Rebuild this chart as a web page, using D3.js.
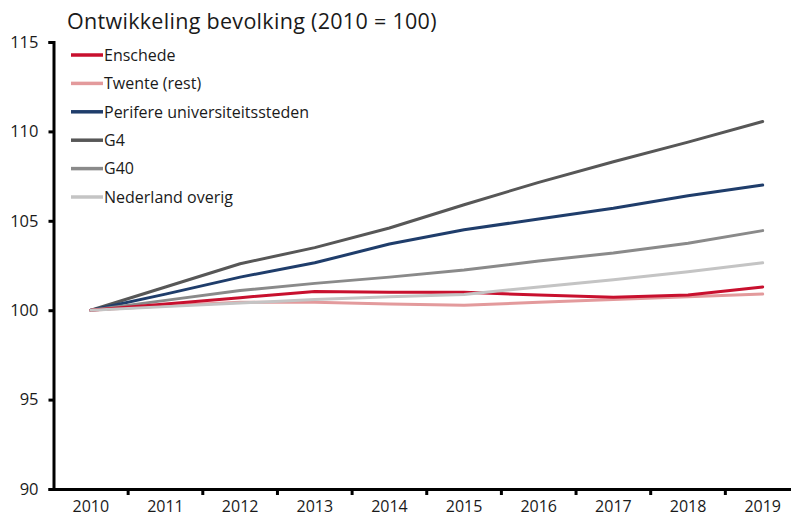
<!DOCTYPE html>
<html><head><meta charset="utf-8">
<script src="https://cdn.jsdelivr.net/npm/d3@7"></script>
<style>
body{margin:0;background:#fff;}
svg text{font-family:"Open Sans","Noto Sans",sans-serif;fill:#1a1a1a;}
</style></head>
<body><svg id="c" width="791" height="520"></svg>
<script>
const years = ["2010","2011","2012","2013","2014","2015","2016","2017","2018","2019"];
const yTicks = [90,95,100,105,110,115];
const title = "Ontwikkeling bevolking (2010 = 100)";
const seriesNames = ["Enschede","Twente (rest)","Perifere universiteitssteden","G4","G40","Nederland overig"];
const seriesColors = ["#c8102e","#e39a9c","#1f3d6b","#575757","#8a8a8a","#c4c4c4"];
const enschede = [100,100.35,100.7,101.05,101.0,101.0,100.85,100.72,100.85,101.3];
const twente   = [100,100.25,100.45,100.45,100.35,100.27,100.45,100.6,100.75,100.9];
const perifere = [100,100.9,101.85,102.65,103.7,104.5,105.1,105.7,106.4,107.0];
const g4       = [100,101.3,102.6,103.5,104.6,105.9,107.15,108.3,109.4,110.55];
const g40      = [100,100.55,101.1,101.5,101.85,102.25,102.75,103.2,103.75,104.45];
const nlOverig = [100,100.2,100.4,100.6,100.75,100.88,101.3,101.7,102.15,102.65];
const seriesValues = [enschede,twente,perifere,g4,g40,nlOverig];

const svg = d3.select("#c");
const x = d3.scaleBand().domain(years).range([53.5,800]);
const y = d3.scaleLinear().domain([90,115]).range([489,42]);

svg.append("text").attr("x",67).attr("y",29).attr("font-size",21.5).attr("letter-spacing",0.3).text(title);

// y axis
const ya = svg.append("g").attr("transform","translate(53.5,0)")
  .call(d3.axisLeft(y).tickValues(yTicks).tickSize(5).tickPadding(10));
ya.select(".domain").attr("stroke","#000").attr("stroke-width",3);
ya.selectAll(".tick line").attr("stroke","#000").attr("stroke-width",3);
ya.selectAll(".tick text").attr("font-size",16.5).attr("font-family","'Open Sans','Noto Sans',sans-serif").attr("fill","#1a1a1a");

// x axis
const xa = svg.append("g").attr("transform","translate(0,489)")
  .call(d3.axisBottom(x).tickSize(0).tickPadding(12));
xa.select(".domain").attr("stroke","#000").attr("stroke-width",3);
xa.selectAll(".tick text").attr("font-size",16).attr("font-family","'Open Sans','Noto Sans',sans-serif").attr("fill","#1a1a1a");
// tick marks at band boundaries
svg.append("g").selectAll("line").data(years.slice(1)).join("line")
  .attr("x1",d=>x(d)).attr("x2",d=>x(d)).attr("y1",489).attr("y2",495)
  .attr("stroke","#000").attr("stroke-width",3);

const line = d3.line().x((d,i)=>x(years[i])+x.bandwidth()/2).y(d=>y(d));
const order = [3,2,4,1,0,5];
svg.append("g").selectAll("path").data(order).join("path")
  .attr("d",i=>line(seriesValues[i])).attr("fill","none")
  .attr("stroke",i=>seriesColors[i]).attr("stroke-width",3)
  .attr("stroke-linejoin","round").attr("stroke-linecap","round");

// legend
const lg = svg.append("g").selectAll("g").data(seriesNames).join("g")
  .attr("transform",(d,i)=>`translate(71,${55+i*28.4})`);
lg.append("line").attr("x1",0).attr("x2",32).attr("stroke",(d,i)=>seriesColors[i]).attr("stroke-width",3.5);
lg.append("text").attr("x",33).attr("y",5.8).attr("font-size",16).text(d=>d);
</script></body></html>
